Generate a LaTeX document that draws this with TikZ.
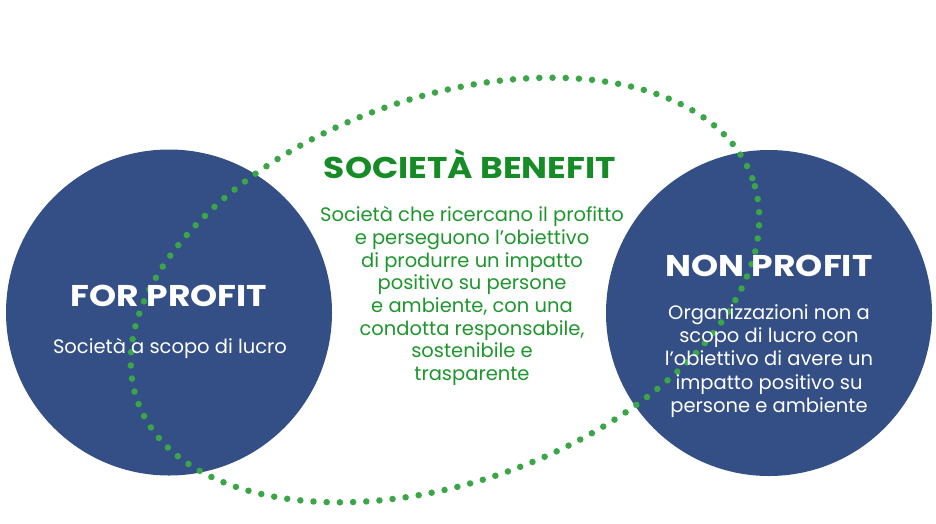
\documentclass[tikz,border=0pt]{standalone}
\usepackage{fontspec}
\setmainfont{Poppins}
\newfontfamily\widebold{Poppins Bold}[FakeStretch=1.15]
\usetikzlibrary{shapes.geometric}
\definecolor{circblue}{RGB}{52,79,134}
\definecolor{txtgreen}{RGB}{30,150,45}
\definecolor{titlegreen}{RGB}{22,140,38}
\definecolor{dotgreen}{RGB}{58,166,72}
\tikzset{
  bigcircle/.style={circle, fill=circblue, minimum size=326pt, inner sep=0pt},
  titletext/.style={font=\fontsize{30}{30}\selectfont\widebold, anchor=base},
  whitebody/.style={text=white, font=\fontsize{19.5}{23.2}\selectfont, align=center},
  greenbody/.style={text=txtgreen, font=\fontsize{19.5}{22.7}\selectfont, align=center},
  dotring/.style={draw=dotgreen, ellipse, line width=6.5pt, line cap=round,
    dash pattern=on 0pt off 13.2pt, inner sep=0pt}
}
\begin{document}
\begin{tikzpicture}[x=1pt,y=-1pt]
\useasboundingbox (0,0) rectangle (936,523);
\node[bigcircle] (forprofit) at (169,312.5) {};
\node[bigcircle] (nonprofit) at (769,313) {};
\node[dotring, rotate=20, minimum width=654pt, minimum height=384pt] (benefit) at (445,290) {};
\node[titletext, text=white] (fortitle) at (169,306) {FOR PROFIT};
\node[text=white, font=\fontsize{19.5}{22}\selectfont, anchor=base] (fortext) at (170,353) {Società a scopo di lucro};
\node[titletext, text=white] (nontitle) at (769,276) {NON PROFIT};
\node[whitebody] (nontext) at (769,361) {Organizzazioni non a\\scopo di lucro con\\l’obiettivo di avere un\\impatto positivo su\\persone e ambiente};
\node[titletext, text=titlegreen] (bentitle) at (470,178) {SOCIETÀ BENEFIT};
\node[greenbody] (bentext) at (472,296) {Società che ricercano il profitto\\e perseguono l’obiettivo\\di produrre un impatto\\positivo su persone\\e ambiente, con una\\condotta responsabile,\\sostenibile e\\trasparente};
\end{tikzpicture}
\end{document}
